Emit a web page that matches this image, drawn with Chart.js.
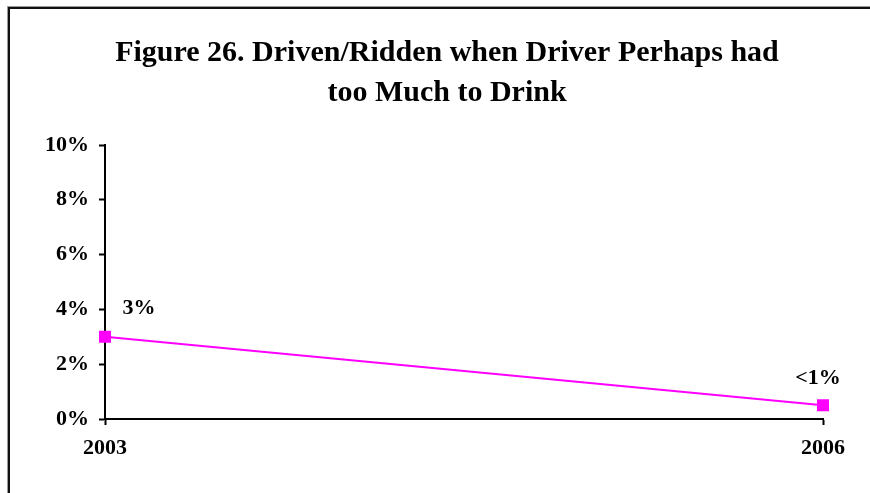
<!DOCTYPE html>
<html>
<head>
<meta charset="utf-8">
<script src="https://cdn.jsdelivr.net/npm/chart.js@4"></script>
<style>
    html, body { margin: 0; padding: 0; background: #fff; overflow: hidden; }
    #wrap { position: relative; width: 870px; height: 493px; }
    #frame {
        position: absolute; left: 8px; top: 7px; width: 900px; height: 520px;
        border-left: 2px solid #111; border-top: 2px solid #111;
        box-shadow: -1px -1px 0 #999; pointer-events: none;
    }
</style>
</head>
<body>
<div id="wrap">
    <canvas id="drinkChart" width="870" height="493"></canvas>
    <div id="frame"></div>
</div>
<script>
var years = ['2003', '2006'];
var drivenValues = [3, 0.5]; // percent
var valueLabels = ['3%', '<1%'];
var yTickLabels = ['0%', '2%', '4%', '6%', '8%', '10%'];
var titleLines = ['Figure 26. Driven/Ridden when Driver Perhaps had', 'too Much to Drink'];

var serif = '"Liberation Serif", "Times New Roman", serif';

// writes the value above each point
var valueLabelPlugin = {
    id: 'valueLabels',
    afterDatasetsDraw: function (chart) {
        var ctx = chart.ctx;
        var pts = chart.getDatasetMeta(0).data;
        var shift = [[34, -23], [-5, -21]];
        ctx.save();
        ctx.font = 'bold 22px ' + serif;
        ctx.fillStyle = '#000';
        ctx.textAlign = 'center';
        ctx.textBaseline = 'alphabetic';
        pts.forEach(function (pt, i) {
            ctx.fillText(valueLabels[i], pt.x + shift[i][0], pt.y + shift[i][1]);
        });
        ctx.restore();
    }
};

document.addEventListener('DOMContentLoaded', function () {
    var ctx = document.getElementById('drinkChart').getContext('2d');

    new Chart(ctx, {
        type: 'line',
        data: {
            labels: years,
            datasets: [{
                label: 'Driven/Ridden',
                data: drivenValues,
                borderColor: '#FF00FF',
                backgroundColor: '#FF00FF',
                borderWidth: 2,
                pointStyle: 'rect',
                pointRadius: 8.5,
                pointBorderWidth: 0,
                tension: 0
            }]
        },
        options: {
            responsive: false,
            animation: false,
            layout: { padding: { left: 24, right: 0, top: 0, bottom: 0 } },
            plugins: {
                legend: { display: false },
                tooltip: { enabled: false },
                title: {
                    display: true,
                    text: titleLines,
                    color: '#000',
                    font: { family: serif, size: 30, weight: 'bold', lineHeight: '40px' },
                    padding: { top: 33, bottom: 32 }
                }
            },
            scales: {
                x: {
                    offset: false,
                    grid: { display: true, drawOnChartArea: false, drawTicks: true, tickLength: 6, color: '#000', tickWidth: 2 },
                    border: { display: true, color: '#000', width: 2 },
                    ticks: { color: '#000', padding: 10, font: { family: serif, size: 22, weight: 'bold' }, maxRotation: 0 },
                    afterFit: function (s) { s.height = 74; s.paddingRight = 47; }
                },
                y: {
                    min: 0,
                    max: 10,
                    grid: { display: true, drawOnChartArea: false, drawTicks: true, tickLength: 6, color: '#000', tickWidth: 2 },
                    border: { display: true, color: '#000', width: 2 },
                    ticks: {
                        stepSize: 2,
                        color: '#000',
                        padding: 10,
                        font: { family: serif, size: 22, weight: 'bold' },
                        callback: function (v, i) { return yTickLabels[i]; }
                    },
                    afterFit: function (s) { s.width = 81; }
                }
            }
        },
        plugins: [valueLabelPlugin]
    });
});
</script>
</body>
</html>
